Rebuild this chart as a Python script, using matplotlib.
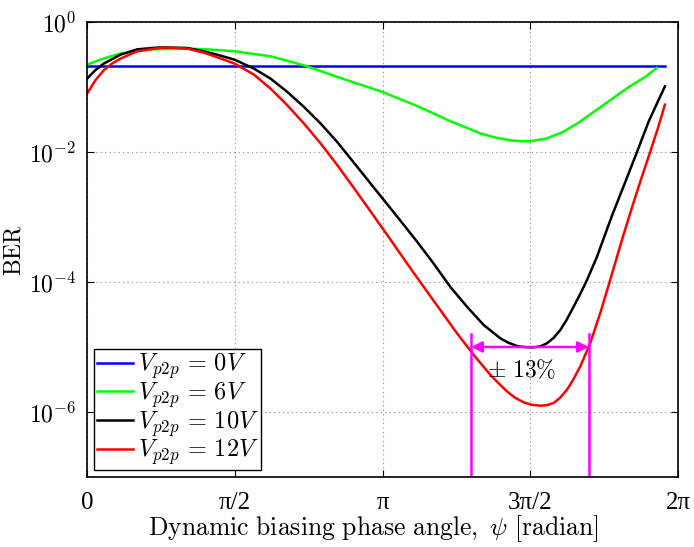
import numpy as np
import matplotlib
matplotlib.use("Agg")
import matplotlib.pyplot as plt

plt.rcParams['mathtext.fontset'] = 'cm'
plt.rcParams['font.family'] = 'serif'
plt.rcParams['font.serif'] = ['Liberation Serif', 'DejaVu Serif']

# phase angle psi [rad] and log10(BER) for each drive voltage
psi_0v = [0.000, 6.144]
ber_0v = [-0.670, -0.670]

psi_6v = [0.000, 0.177, 0.355, 0.532, 0.710, 1.065, 1.320, 1.569, 1.952, 2.307,
          2.662, 3.142, 3.316, 3.491, 3.665, 3.840, 4.014, 4.189, 4.363, 4.500,
          4.608, 4.712, 4.887, 5.061, 5.236, 5.410, 5.585, 5.759, 5.934, 6.056]
ber_6v = [-0.656, -0.560, -0.487, -0.445, -0.421, -0.410, -0.425, -0.451, -0.528, -0.667,
          -0.846, -1.077, -1.180, -1.282, -1.395, -1.513, -1.615, -1.718, -1.785, -1.820,
          -1.836, -1.836, -1.790, -1.692, -1.538, -1.359, -1.180, -1.000, -0.846, -0.708]

psi_10v = [0.000, 0.089, 0.177, 0.355, 0.532, 0.781, 1.065, 1.242, 1.400, 1.569,
           1.775, 1.952, 2.130, 2.307, 2.485, 2.662, 2.840, 3.017, 3.195, 3.350,
           3.509, 3.686, 3.863, 4.041, 4.218, 4.394, 4.480, 4.571, 4.660, 4.748,
           4.820, 4.889, 4.960, 5.031, 5.100, 5.172, 5.245, 5.314, 5.420, 5.500,
           5.585, 5.660, 5.725, 5.847, 5.969, 6.060, 6.144]
ber_10v = [-0.872, -0.740, -0.641, -0.503, -0.421, -0.390, -0.400, -0.451, -0.510, -0.580,
           -0.718, -0.872, -1.077, -1.308, -1.564, -1.850, -2.170, -2.490, -2.810, -3.090,
           -3.380, -3.719, -4.077, -4.383, -4.663, -4.867, -4.935, -4.985, -5.003, -5.005,
           -4.990, -4.944, -4.860, -4.740, -4.580, -4.383, -4.180, -3.974, -3.617, -3.300,
           -2.964, -2.690, -2.451, -2.000, -1.538, -1.250, -0.990]

psi_12v = [0.000, 0.089, 0.177, 0.266, 0.355, 0.532, 0.816, 1.065, 1.242, 1.400,
           1.569, 1.775, 1.952, 2.130, 2.307, 2.485, 2.662, 2.840, 3.017, 3.227,
           3.404, 3.580, 3.757, 3.934, 4.111, 4.288, 4.380, 4.465, 4.550, 4.642,
           4.730, 4.819, 4.890, 4.960, 5.030, 5.102, 5.170, 5.243, 5.349, 5.455,
           5.561, 5.685, 5.795, 5.890, 5.987, 6.070, 6.144]
ber_12v = [-1.103, -0.897, -0.744, -0.640, -0.564, -0.451, -0.390, -0.410, -0.472, -0.550,
           -0.641, -0.810, -1.026, -1.282, -1.564, -1.872, -2.205, -2.560, -2.920, -3.350,
           -3.719, -4.077, -4.434, -4.791, -5.122, -5.429, -5.565, -5.684, -5.780, -5.852,
           -5.890, -5.903, -5.895, -5.862, -5.780, -5.658, -5.500, -5.301, -4.944, -4.485,
           -3.974, -3.362, -2.846, -2.420, -2.000, -1.630, -1.272]

labels = [r'$V_{p2p}\,=\,0V$', r'$V_{p2p}\,=\,6V$', r'$V_{p2p}\,=\,10V$', r'$V_{p2p}\,=\,12V$']
colors = ['#0000ff', '#00ff00', '#000000', '#ff0000']

xticks = [0, np.pi / 2, np.pi, 3 * np.pi / 2, 2 * np.pi]
xticklabels = ['0', 'π/2', 'π', '3π/2', '2π']
yticks = [1e0, 1e-2, 1e-4, 1e-6]
yticklabels = [r'$10^{0}$', r'$10^{-2}$', r'$10^{-4}$', r'$10^{-6}$']

# tolerance window around 3pi/2 at BER = 1e-5
tol_left, tol_right = 4.083, 5.335
tol_ber = 1e-5
tol_top = 10 ** -4.806

fig = plt.figure(figsize=(6.94, 5.47), dpi=100)
ax = fig.add_axes([0.1254, 0.128, 0.8516, 0.8318])

series = [(psi_0v, ber_0v), (psi_6v, ber_6v), (psi_10v, ber_10v), (psi_12v, ber_12v)]
for (x, y), lab, c in zip(series, labels, colors):
    ax.semilogy(x, 10 ** np.array(y), color=c, lw=1.8, label=lab,
                solid_joinstyle='round')

# magenta markers
ax.plot([tol_left, tol_left], [1e-7, tol_top], color='#ff00ff', lw=1.8)
ax.plot([tol_right, tol_right], [1e-7, tol_top], color='#ff00ff', lw=1.8)
ax.annotate('', xy=(tol_left, tol_ber), xytext=(tol_right, tol_ber),
            arrowprops=dict(arrowstyle='<|-|>', color='#ff00ff', lw=1.8,
                            mutation_scale=16, shrinkA=0, shrinkB=0))
ax.text(4.624, 10 ** -5.36, r'$\pm\ 13\%$', fontsize=17, ha='center', va='center')

ax.set_xlim(0, 2 * np.pi)
ax.set_ylim(1e-7, 1e0)
ax.set_xticks(xticks)
ax.set_xticklabels(xticklabels, fontsize=18)
ax.set_yticks(yticks)
ax.set_yticklabels(yticklabels, fontsize=17)
ax.minorticks_off()
ax.tick_params(direction='in', top=True, right=True, length=5, width=0.8, pad=8)
ax.tick_params(axis='x', pad=11)
ax.grid(True, which='major', linestyle=(0, (1, 3)), color='#888888', lw=0.8)
for s in ax.spines.values():
    s.set_linewidth(1.2)

ax.set_xlabel(r'$\mathrm{Dynamic\ biasing\ phase\ angle,}\ \psi\ \mathrm{[radian]}$',
              fontsize=18.5, labelpad=-1)
ax.xaxis.label.set_x(0.485)
ax.set_ylabel(r'$\mathrm{BER}$', fontsize=17, labelpad=2)

leg = ax.legend(loc='lower left', fontsize=17.5, fancybox=False, framealpha=1,
                edgecolor='black', borderpad=0.1, labelspacing=-0.04,
                handlelength=1.5, handletextpad=0.2, borderaxespad=0.3)
leg.get_frame().set_linewidth(1.0)

fig.savefig('out.png', dpi=100)
